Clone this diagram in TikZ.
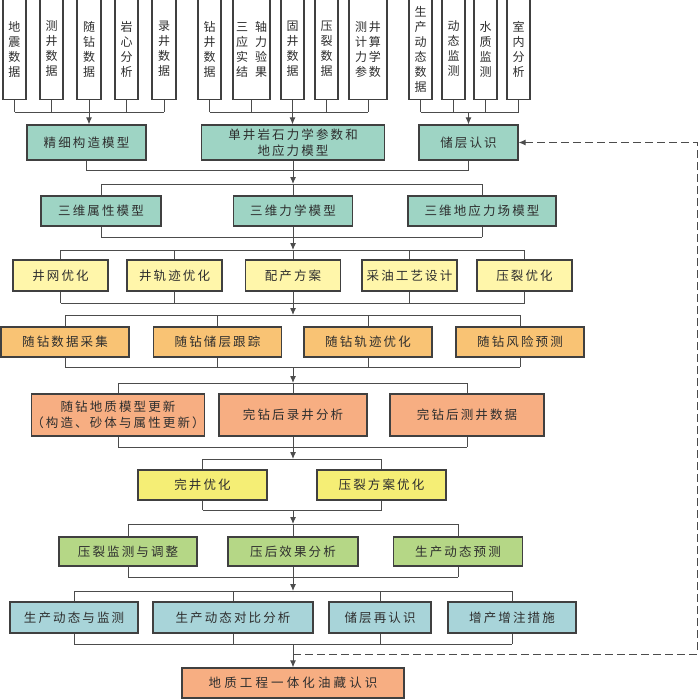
\documentclass[tikz,border=0pt]{standalone}
\usepackage{fontspec}
\usetikzlibrary{arrows.meta,calc,positioning}
\newfontfamily\cjk[LetterSpace=17]{Noto Sans CJK SC}
\newfontfamily\cjkwide[LetterSpace=25]{Noto Sans CJK SC}
\newfontfamily\cjkv{Noto Sans CJK SC}
\definecolor{Edge}{HTML}{404040}
\definecolor{Wire}{HTML}{4C4C4C}
\definecolor{Ink}{HTML}{2E2E2E}
\definecolor{Teal}{HTML}{9ED4C4}
\definecolor{Pale}{HTML}{FFF6AA}
\definecolor{Amber}{HTML}{F9C374}
\definecolor{Salmon}{HTML}{F7AE82}
\definecolor{Lemon}{HTML}{F5EE75}
\definecolor{Leaf}{HTML}{B5D786}
\definecolor{Sky}{HTML}{A8D4D9}

\tikzset{
  box/.style={draw=Edge,line width=1.1pt,inner sep=0pt,align=center,text=Ink,
    font=\cjk\fontsize{12.5}{16}\selectfont},
  tall/.style={box,fill=white,minimum height=101,font=\cjkv\fontsize{12}{15}\selectfont},
  link/.style={Wire,line width=1pt},
  arr/.style={link,-{Latex[length=7pt,width=6pt]}},
  back/.style={link,dash pattern=on 8pt off 4pt,-{Latex[length=7pt,width=6pt]}}
}

\begin{document}
\begin{tikzpicture}[x=1pt,y=-1pt]
  \useasboundingbox (0,0) rectangle (700,699);

  % data columns
  \node[tall,minimum width=23] (d1) at (14.5,49) {地\\震\\数\\据};
  \node[tall,minimum width=23] (d2) at (51.5,49) {测\\井\\数\\据};
  \node[tall,minimum width=24] (d3) at (89,49) {随\\钻\\数\\据};
  \node[tall,minimum width=23] (d4) at (126.5,49) {岩\\心\\分\\析};
  \node[tall,minimum width=24] (d5) at (164,49) {录\\井\\数\\据};
  \node[tall,minimum width=23] (e1) at (209.5,49) {钻\\井\\数\\据};
  \node[tall,minimum width=37] (e2) at (251.5,49) {三\hspace{7pt}轴\\应\hspace{7pt}力\\实\hspace{7pt}验\\结\hspace{7pt}果};
  \node[tall,minimum width=23] (e3) at (292.5,49) {固\\井\\数\\据};
  \node[tall,minimum width=23] (e4) at (326.5,49) {压\\裂\\数\\据};
  \node[tall,minimum width=38] (e5) at (368,49) {测\hspace{2pt}井\\计\hspace{2pt}算\\力\hspace{2pt}学\\参\hspace{2pt}数};
  \node[tall,minimum width=23] (f1) at (420.5,49) {生\\产\\动\\态\\数\\据};
  \node[tall,minimum width=23] (f2) at (453.5,49) {动\\态\\监\\测};
  \node[tall,minimum width=23] (f3) at (485.5,49) {水\\质\\监\\测};
  \node[tall,minimum width=23] (f4) at (518.5,49) {室\\内\\分\\析};

  % models
  \node[box,fill=Teal,minimum width=119,minimum height=35] (m1) at (86.5,142.5) {精细构造模型};
  \node[box,fill=Teal,minimum width=183,minimum height=35] (m2) at (293,142.5) {单井岩石力学参数和\\地应力模型};
  \node[box,fill=Teal,minimum width=99,minimum height=35] (m3) at (468.5,142.5) {储层认识};

  \node[box,fill=Teal,minimum width=120,minimum height=30] (g1) at (101,211) {三维属性模型};
  \node[box,fill=Teal,minimum width=119,minimum height=30] (g2) at (293,211) {三维力学模型};
  \node[box,fill=Teal,minimum width=148,minimum height=30] (g3) at (482,211) {三维地应力场模型};

  % design
  \node[box,fill=Pale,minimum width=95,minimum height=31] (p1) at (60.5,275.5) {井网优化};
  \node[box,fill=Pale,minimum width=95,minimum height=31] (p2) at (174.5,275.5) {井轨迹优化};
  \node[box,fill=Pale,minimum width=95,minimum height=31] (p3) at (293,275.5) {配产方案};
  \node[box,fill=Pale,minimum width=95,minimum height=31] (p4) at (409.5,275.5) {采油工艺设计};
  \node[box,fill=Pale,minimum width=95,minimum height=31] (p5) at (524.5,275.5) {压裂优化};

  % while drilling
  \node[box,fill=Amber,minimum width=128,minimum height=30] (s1) at (65,342) {随钻数据采集};
  \node[box,fill=Amber,minimum width=128,minimum height=30] (s2) at (217.5,342) {随钻储层跟踪};
  \node[box,fill=Amber,minimum width=128,minimum height=30] (s3) at (368,342) {随钻轨迹优化};
  \node[box,fill=Amber,minimum width=128,minimum height=30] (s4) at (520,342) {随钻风险预测};

  \node[box,fill=Salmon,minimum width=169,minimum height=42] (u1) at (118,415) {随钻地质模型更新\\（构造、砂体与属性更新）};
  \node[box,fill=Salmon,minimum width=148,minimum height=42] (u2) at (293,415) {完钻后录井分析};
  \node[box,fill=Salmon,minimum width=154,minimum height=42] (u3) at (467,415) {完钻后测井数据};

  % completion
  \node[box,fill=Lemon,minimum width=129,minimum height=30] (w1) at (202.5,485) {完井优化};
  \node[box,fill=Lemon,minimum width=129,minimum height=30] (w2) at (381.5,485) {压裂方案优化};

  \node[box,fill=Leaf,minimum width=138,minimum height=29] (c1) at (128,551.5) {压裂监测与调整};
  \node[box,fill=Leaf,minimum width=130,minimum height=29] (c2) at (293,551.5) {压后效果分析};
  \node[box,fill=Leaf,minimum width=129,minimum height=29] (c3) at (458,551.5) {生产动态预测};

  % production
  \node[box,fill=Sky,minimum width=128,minimum height=31] (k1) at (74,617.5) {生产动态与监测};
  \node[box,fill=Sky,minimum width=160,minimum height=31] (k2) at (233,617.5) {生产动态对比分析};
  \node[box,fill=Sky,minimum width=102,minimum height=31] (k3) at (380,617.5) {储层再认识};
  \node[box,fill=Sky,minimum width=128,minimum height=31] (k4) at (512,617.5) {增产增注措施};

  \node[box,fill=Salmon,minimum width=222,minimum height=30,
        font=\cjkwide\fontsize{12.5}{16}\selectfont] (fin) at (293,683) {地质工程一体化油藏认识};

  % bracket levels
  \coordinate (b1) at (0,112);
  \coordinate (b2) at (293,170);
  \foreach \i/\t/\b in {1/184/237,2/250/303,3/315/367,4/383/447,5/459/510,6/524/577,7/591/644}{
    \coordinate (top\i) at (293,\t);
    \coordinate (bot\i) at (293,\b);
  }
  \coordinate (fb) at (697,654);

  % data to models
  \foreach \n in {d1,d2,d4,d5,e1,e2,e4,e5,f1,f2,f3,f4}
    \draw[link] (\n.south) -- (\n.south |- b1);
  \draw[link] (d1.south |- b1) -- (d5.south |- b1);
  \draw[link] (e1.south |- b1) -- (e5.south |- b1);
  \draw[link] (f1.south |- b1) -- (f4.south |- b1);
  \draw[arr] (d3.south) -- (d3.south |- m1.north);
  \draw[arr] (e3.south) -- (e3.south |- m2.north);
  \draw[arr] (m3.north |- b1) -- (m3.north);

  \draw[link] (m1.south) -- (m1.south |- b2) -- (m3.south |- b2) -- (m3.south);
  \draw[link] (m2.south) -- (b2);

  % rows
  \foreach \lst/\a/\z/\i in {{g1,g2,g3}/g1/g3/1,{p1,p2,p3,p4,p5}/p1/p5/2,{s1,s2,s3,s4}/s1/s4/3,
      {u1,u2,u3}/u1/u3/4,{w1,w2}/w1/w2/5,{c1,c2,c3}/c1/c3/6,{k1,k2,k3,k4}/k1/k4/7}{
    \foreach \n in \lst{
      \draw[link] (\n.north) -- (\n.north |- top\i);
      \draw[link] (\n.south) -- (\n.south |- bot\i);
    }
    \draw[link] (\a.north |- top\i) -- (\z.north |- top\i);
    \draw[link] (\a.south |- bot\i) -- (\z.south |- bot\i);
  }

  \foreach \f/\t in {b2/top1,bot1/top2,bot2/top3,bot3/top4,bot4/top5,bot5/top6,bot6/top7}
    \draw[arr] (\f) -- (\t);
  \draw[arr] (bot7) -- (fin.north);

  % feedback
  \draw[back] (fin.north |- fb) -- (fb) |- (m3.east);
\end{tikzpicture}
\end{document}
